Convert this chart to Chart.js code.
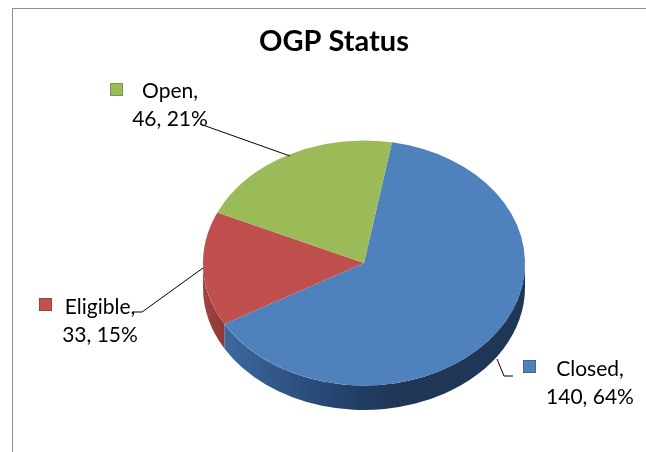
<!DOCTYPE html>
<html>
<head>
<meta charset="utf-8">
<title>OGP Status</title>
<script src="https://cdn.jsdelivr.net/npm/chart.js@4"></script>
<style>
    html, body { margin: 0; padding: 0; background: #fff; overflow: hidden; }
    #wrap { position: relative; width: 646px; height: 452px; overflow: hidden; }
    #frame { position: absolute; left: 12px; top: 8px; right: 0; bottom: 0; border-left: 1px solid #8f8f8f; border-top: 1px solid #8f8f8f; }
    #ogpChart { position: absolute; left: 0; top: 0; }
</style>
</head>
<body>
<div id="wrap">
    <div id="frame"></div>
    <canvas id="ogpChart" width="668" height="452"></canvas>
</div>
<script>
const categories = ['Closed', 'Eligible', 'Open'];
const counts = [140, 33, 46];
const sliceColors = ['#4f81bd', '#c0504d', '#9bbb59'];
const keyBorders = ['#3f6797', '#9a403e', '#7c9647'];

const FONT = 'Lato, "Open Sans", sans-serif';

// where the tilted pie ends up on the page
const pie = { cx: 364, cy: 263, rx: 161, ry: 122.5, depth: 24.5 };

// label blocks: text centre, two baselines, key square, leader line
const labelSpots = [
    { x: 590, y1: 376, y2: 404, key: [523, 360], leader: [[497, 359], [504, 376], [513, 376]] },
    { x: 100, y1: 314, y2: 342, key: [39, 298], leader: [[133, 312], [142, 312], [203, 268]] },
    { x: 170, y1: 98, y2: 126, key: [110, 83], leader: [[200, 124], [290, 156]] }
];

const total = counts.reduce((a, b) => a + b, 0);

function wallGradient(ctx, i) {
    const g = ctx.createLinearGradient(pie.cx - pie.rx, 0, pie.cx + pie.rx, 0);
    if (i === 0) {
        g.addColorStop(0, '#41709f');
        g.addColorStop(0.1, '#3a659a');
        g.addColorStop(0.45, '#24406a');
        g.addColorStop(0.6, '#1f3656');
        g.addColorStop(1, '#1f3656');
    } else {
        g.addColorStop(0, '#a04441');
        g.addColorStop(0.12, '#7f2f2d');
        g.addColorStop(1, '#7f2f2d');
    }
    return g;
}

const tiltedPie = {
    id: 'tiltedPie',
    beforeDatasetsDraw(chart) {
        const ctx = chart.ctx;
        const arcs = chart.getDatasetMeta(0).data;

        // side wall, only the part of each slice facing the viewer
        arcs.forEach((arc, i) => {
            const a0 = Math.max(arc.startAngle, 0);
            const a1 = Math.min(arc.endAngle, Math.PI);
            if (a1 <= a0) return;
            ctx.beginPath();
            ctx.ellipse(pie.cx, pie.cy, pie.rx, pie.ry, 0, a0, a1);
            ctx.ellipse(pie.cx, pie.cy + pie.depth, pie.rx, pie.ry, 0, a1, a0, true);
            ctx.closePath();
            ctx.fillStyle = wallGradient(ctx, i);
            ctx.fill();
        });

        const first = arcs[0];
        ctx.save();
        ctx.translate(pie.cx, pie.cy);
        ctx.scale(pie.rx / first.outerRadius, pie.ry / first.outerRadius);
        ctx.translate(-first.x, -first.y);
    },
    afterDatasetsDraw(chart) {
        chart.ctx.restore();
    },
    afterDraw(chart) {
        const ctx = chart.ctx;
        ctx.save();
        labelSpots.forEach((spot, i) => {
            ctx.strokeStyle = '#000';
            ctx.lineWidth = 1;
            ctx.beginPath();
            spot.leader.forEach((p, n) => n ? ctx.lineTo(p[0], p[1]) : ctx.moveTo(p[0], p[1]));
            ctx.stroke();

            ctx.fillStyle = sliceColors[i];
            ctx.strokeStyle = keyBorders[i];
            ctx.fillRect(spot.key[0], spot.key[1], 13, 13);
            ctx.strokeRect(spot.key[0] + 0.5, spot.key[1] + 0.5, 12, 12);

            ctx.fillStyle = '#000';
            ctx.font = '400 21px ' + FONT;
            ctx.textAlign = 'center';
            ctx.textBaseline = 'alphabetic';
            ctx.fillText(categories[i] + ',', spot.x, spot.y1);
            ctx.fillText(counts[i] + ', ' + Math.round(counts[i] / total * 100) + '%', spot.x, spot.y2);
        });
        ctx.restore();
    }
};

new Chart(document.getElementById('ogpChart'), {
    type: 'pie',
    data: {
        labels: categories,
        datasets: [{
            data: counts,
            backgroundColor: sliceColors,
            borderWidth: 0,
            clip: false
        }]
    },
    options: {
        responsive: false,
        animation: false,
        rotation: 10,
        plugins: {
            legend: { display: false },
            tooltip: { enabled: false },
            title: {
                display: true,
                text: 'OGP Status',
                color: '#000',
                font: { family: FONT, size: 29, weight: 'bold' },
                padding: { top: 24, bottom: 10 }
            }
        }
    },
    plugins: [tiltedPie]
});
</script>
</body>
</html>
